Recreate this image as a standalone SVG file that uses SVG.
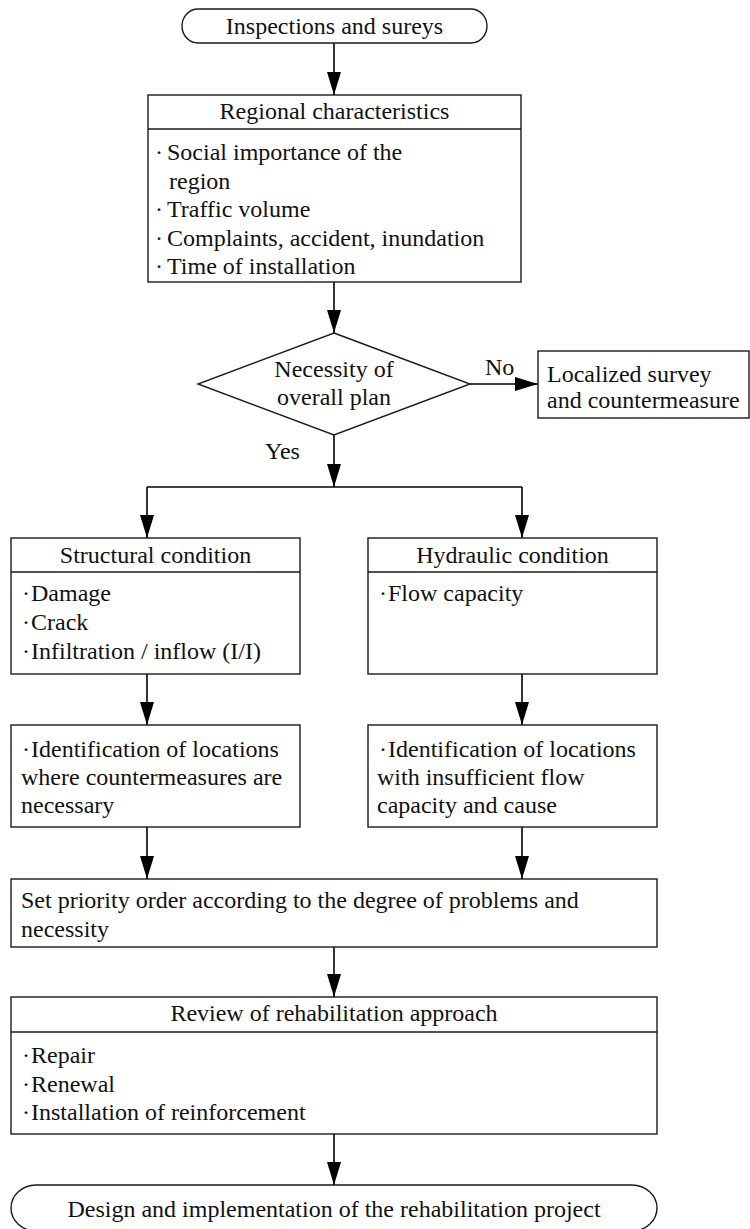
<svg xmlns="http://www.w3.org/2000/svg" width="750" height="1229" viewBox="0 0 750 1229">
<style>
.box{fill:#fff;stroke:#1a1a1a;stroke-width:1.4}
.ln{fill:none;stroke:#1a1a1a;stroke-width:1.4}
.t{font-family:"Liberation Serif","Times New Roman",serif;font-size:24px;fill:#111}
.c{text-anchor:middle}
.con{fill:none;stroke:#000;stroke-width:1.6}
</style>
<defs>
<marker id="ah" markerUnits="userSpaceOnUse" markerWidth="23" markerHeight="14" refX="23" refY="7" orient="auto" viewBox="0 0 23 14">
<path d="M0,0 L23,7 L0,14 z" fill="#000"/>
</marker>
</defs>
<rect width="750" height="1229" fill="#fff"/>

<g id="connectors">
<path class="con" d="M334,43 V95" marker-end="url(#ah)"/>
<path class="con" d="M334,282 V333" marker-end="url(#ah)"/>
<path class="con" d="M470,384 H538" marker-end="url(#ah)"/>
<path class="con" d="M334,435 V487" marker-end="url(#ah)"/>
<path class="con" d="M147,487 H522"/>
<path class="con" d="M147,487 V538" marker-end="url(#ah)"/>
<path class="con" d="M522,487 V538" marker-end="url(#ah)"/>
<path class="con" d="M147,674 V725" marker-end="url(#ah)"/>
<path class="con" d="M522,674 V725" marker-end="url(#ah)"/>
<path class="con" d="M147,827 V879" marker-end="url(#ah)"/>
<path class="con" d="M522,827 V879" marker-end="url(#ah)"/>
<path class="con" d="M334,947 V997" marker-end="url(#ah)"/>
<path class="con" d="M334,1134 V1185" marker-end="url(#ah)"/>
<text class="t" x="485" y="375">No</text>
<text class="t" x="265" y="459">Yes</text>
</g>

<g id="start">
<rect class="box" x="182" y="9" width="305" height="34" rx="16" ry="17"/>
<text class="t c" x="334.5" y="34">Inspections and sureys</text>
</g>

<g id="regional">
<rect class="box" x="148" y="95" width="373" height="187"/>
<line class="ln" x1="148" y1="129" x2="521" y2="129"/>
<text class="t c" x="334.5" y="119">Regional characteristics</text>
<text class="t" x="155" y="160">·<tspan x="167">Social importance of the</tspan></text>
<text class="t" x="169" y="188.5">region</text>
<text class="t" x="155" y="217">·<tspan x="167">Traffic volume</tspan></text>
<text class="t" x="155" y="245.5">·<tspan x="167">Complaints, accident, inundation</tspan></text>
<text class="t" x="155" y="274">·<tspan x="167">Time of installation</tspan></text>
</g>

<g id="decision">
<polygon class="box" points="334,333 470,384 334,435 198,384"/>
<text class="t c" x="334" y="377">Necessity of</text>
<text class="t c" x="334" y="405">overall plan</text>
</g>

<g id="localized">
<rect class="box" x="538" y="351" width="211" height="67"/>
<text class="t" x="547" y="382">Localized survey</text>
<text class="t" x="547" y="408">and countermeasure</text>
</g>

<g id="structural">
<rect class="box" x="11" y="538" width="289" height="136"/>
<line class="ln" x1="11" y1="572" x2="300" y2="572"/>
<text class="t c" x="155.5" y="563">Structural condition</text>
<text class="t" x="22" y="601">·<tspan x="31">Damage</tspan></text>
<text class="t" x="22" y="630">·<tspan x="31">Crack</tspan></text>
<text class="t" x="22" y="659">·<tspan x="31">Infiltration / inflow (I/I)</tspan></text>
</g>

<g id="hydraulic">
<rect class="box" x="368" y="538" width="289" height="136"/>
<line class="ln" x1="368" y1="572" x2="657" y2="572"/>
<text class="t c" x="512.5" y="563">Hydraulic condition</text>
<text class="t" x="379" y="601">·<tspan x="388">Flow capacity</tspan></text>
</g>

<g id="ident-left">
<rect class="box" x="11" y="725" width="289" height="102"/>
<text class="t" x="22" y="757">·<tspan x="31">Identification of locations</tspan></text>
<text class="t" x="21" y="785">where countermeasures are</text>
<text class="t" x="21" y="813">necessary</text>
</g>

<g id="ident-right">
<rect class="box" x="368" y="725" width="289" height="102"/>
<text class="t" x="379" y="757">·<tspan x="388">Identification of locations</tspan></text>
<text class="t" x="377" y="785">with insufficient flow</text>
<text class="t" x="377" y="813">capacity and cause</text>
</g>

<g id="priority">
<rect class="box" x="11" y="879" width="646" height="68"/>
<text class="t" x="21" y="908">Set priority order according to the degree of problems and</text>
<text class="t" x="21" y="937">necessity</text>
</g>

<g id="review">
<rect class="box" x="11" y="997" width="646" height="137"/>
<line class="ln" x1="11" y1="1032" x2="657" y2="1032"/>
<text class="t c" x="334" y="1021">Review of rehabilitation approach</text>
<text class="t" x="22" y="1063">·<tspan x="31">Repair</tspan></text>
<text class="t" x="22" y="1092">·<tspan x="31">Renewal</tspan></text>
<text class="t" x="22" y="1120">·<tspan x="31">Installation of reinforcement</tspan></text>
</g>

<g id="end">
<rect class="box" x="11" y="1185" width="646" height="46" rx="25" ry="23"/>
<text class="t c" x="334" y="1217">Design and implementation of the rehabilitation project</text>
</g>
</svg>
